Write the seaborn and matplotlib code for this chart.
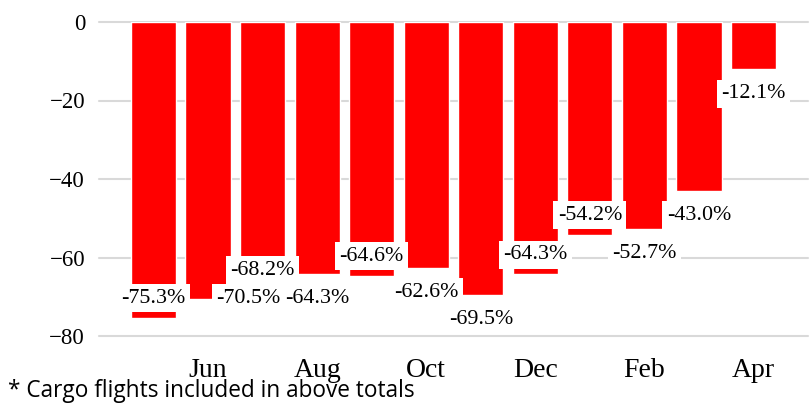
import matplotlib
matplotlib.use("Agg")
import matplotlib.pyplot as plt
import seaborn as sns
import pandas as pd

months = ["May", "Jun", "Jul", "Aug", "Sep", "Oct", "Nov", "Dec", "Jan", "Feb", "Mar", "Apr"]
values = [-75.3, -70.5, -68.2, -64.3, -64.6, -62.6, -69.5, -64.3, -54.2, -52.7, -43.0, -12.1]
label_texts = ["-75.3%", "-70.5%", "-68.2%", "-64.3%", "-64.6%", "-62.6%",
               "-69.5%", "-64.3%", "-54.2%", "-52.7%", "-43.0%", "-12.1%"]
# label placement relative to bar end
placement = ["in", "side", "in", "out", "in", "out", "out", "in", "in", "out", "out", "out"]
yticks = [0, -20, -40, -60, -80]
footnote = "* Cargo flights included in above totals"

sns.set_theme(style="white")
plt.rcParams["font.family"] = ["Liberation Serif", "DejaVu Serif"]

df = pd.DataFrame({"month": months, "value": values})

fig = plt.figure(figsize=(8.12, 4.05), dpi=100)
ax = fig.add_axes([99/812, 69/405, 709/812, 314/405])

sns.barplot(data=df, x="month", y="value", order=months, color="#FF0000",
            saturation=1, width=0.83, ax=ax, zorder=2)

ax.set_xlim(-1.0, 12.0)
ax.set_ylim(-80, 0)
ax.set_yticks(yticks)
ax.set_yticklabels([f"{t:d}".replace("-", "\u2212") for t in yticks], fontsize=16.5)
shown = list(range(1, 12, 2))
ax.set_xticks(shown)
ax.set_xticklabels([months[i] for i in shown], fontsize=20)
ax.set_xlabel("")
ax.set_ylabel("")
ax.tick_params(axis="y", length=0, pad=10, colors="black")
ax.tick_params(axis="x", length=0, pad=16, colors="black")
for s in ax.spines.values():
    s.set_visible(False)
ax.yaxis.grid(True, color="#D9D9D9", linewidth=1.5, zorder=0)
ax.set_axisbelow(True)
for gl in ax.get_ygridlines():
    gl.set_clip_on(False)

offsets = {"in": (0, 14), "out": (0, -17.5), "side": (29, 0.5)}
for i, (v, t, p) in enumerate(zip(values, label_texts, placement)):
    dx, dy = offsets[p]
    ax.annotate(t, xy=(i, v), xytext=(dx, dy), textcoords="offset points",
                ha="center", va="center", fontsize=15.8, color="black", zorder=5,
                bbox=dict(boxstyle="square,pad=0.2", fc="white", ec="none"))

fig.text(8/812, 1 - 397/405, footnote, fontsize=16.3, family=["Open Sans", "DejaVu Sans"],
         ha="left", va="baseline", color="black")

fig.savefig("out.png", dpi=100)
